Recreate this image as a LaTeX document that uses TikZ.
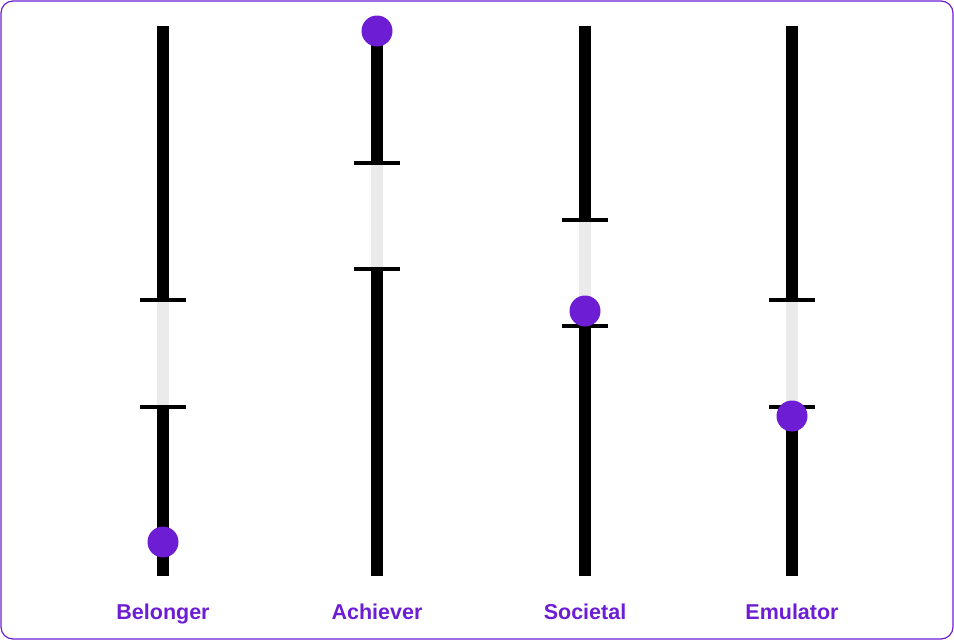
\documentclass[tikz,border=0pt]{standalone}
\usepackage{fontspec}
\setmainfont{Liberation Sans}
\definecolor{pur}{HTML}{6D1ED4}
\definecolor{lgray}{HTML}{EBEBEB}
\begin{document}
\begin{tikzpicture}[x=1pt,y=-1pt,
  bar/.style={line width=12pt,black},
  gap/.style={line width=12pt,lgray},
  tick/.style={line width=3.5pt,black},
  dot/.style={circle,fill=pur,minimum size=31pt,inner sep=0pt},
  lab/.style={text=pur,anchor=base,font=\bfseries\fontsize{21.5}{24}\selectfont}]
\useasboundingbox (0,0) rectangle (954,640);
\draw[pur,line width=1.2pt,rounded corners=12pt,fill=white] (1,1) rectangle (953,639);
\foreach \x/\a/\b/\d/\t [count=\i] in {163/300/407/542/Belonger,377/163/269/31/Achiever,585/220/326/311/Societal,792/300/407/416/Emulator}{
  \coordinate (top\i) at (\x,26);
  \coordinate (bot\i) at (\x,576);
  \coordinate (ga\i) at (\x,\a);
  \coordinate (gb\i) at (\x,\b);
  \draw[bar] (top\i) -- (ga\i);
  \draw[gap] (ga\i) -- (gb\i);
  \draw[bar] (gb\i) -- (bot\i);
  \draw[tick] ([xshift=-23pt]ga\i) -- ([xshift=23pt]ga\i);
  \draw[tick] ([xshift=-23pt]gb\i) -- ([xshift=23pt]gb\i);
  \node[dot] (d\i) at (\x,\d) {};
  \node[lab] (l\i) at (\x,619) {\t};
}
\end{tikzpicture}
\end{document}
